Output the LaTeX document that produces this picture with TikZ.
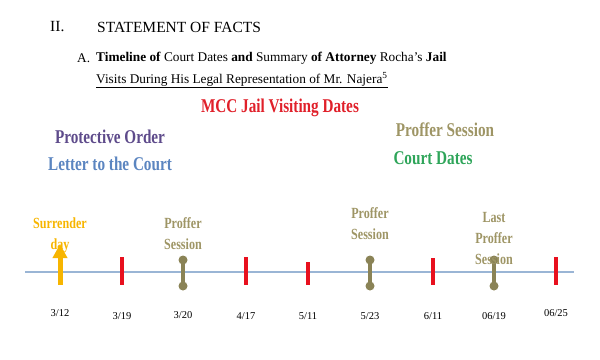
\documentclass[tikz,border=0pt]{standalone}
\usepackage{fontspec}
\setmainfont{Liberation Serif}
\newfontfamily\narrowfont[FakeStretch=0.78]{Liberation Serif}
\usetikzlibrary{arrows.meta}

\definecolor{mccred}{HTML}{E0202A}
\definecolor{orderpurple}{HTML}{5E4B8B}
\definecolor{letterblue}{HTML}{5B85C0}
\definecolor{profferkhaki}{HTML}{9E9565}
\definecolor{courtgreen}{HTML}{2FA55A}
\definecolor{surrenderyellow}{HTML}{F7B500}
\definecolor{profferolive}{HTML}{8A8356}
\definecolor{visitred}{HTML}{E8101E}
\definecolor{axisblue}{HTML}{9AB5D5}

\begin{document}
\begin{tikzpicture}[x=1pt, y=-1pt, >=Latex,
    heading/.style={font=\fontsize{13.3}{16}\selectfont, anchor=west, inner sep=0pt},
    legend/.style={font=\narrowfont\bfseries\fontsize{19.5}{22}\selectfont, inner sep=0pt},
    eventlabel/.style={font=\narrowfont\bfseries\fontsize{15.5}{21}\selectfont, align=center, inner sep=0pt, text=profferkhaki},
    datelabel/.style={font=\fontsize{10.5}{12}\selectfont, inner sep=0pt},
    visitbar/.style={visitred, line width=4.5pt},
    profferbar/.style={profferolive, line width=4pt},
    profferend/.style={circle, fill=profferolive, minimum size=9pt, inner sep=0pt}]
  \useasboundingbox (0,0) rectangle (600,359);
  % headings
  \node[heading, font=\fontsize{15.5}{18}\selectfont] (sec) at (50,27) {II.};
  \node[heading, font=\fontsize{15.5}{18}\selectfont] (sectitle) at (97,27) {STATEMENT OF FACTS};
  \node[heading] (suba) at (77,58) {A.};
  \node[heading] (subline1) at (96,58) {\textbf{Timeline of} Court Dates \textbf{and} Summary \textbf{of Attorney} Rocha's \textbf{Jail}};
  \node[heading] (subline2) at (96,80) {\underline{Visits During His Legal Representation of Mr. Najera\textsuperscript{5}}};
  % legend
  \node[legend, text=mccred] (mcc) at (280,108) {MCC Jail Visiting Dates};
  \node[legend, text=orderpurple] (order) at (110,137) {Protective Order};
  \node[legend, text=letterblue] (letter) at (110,164) {Letter to the Court};
  \node[legend, text=profferkhaki] (proffer) at (445,130) {Proffer Session};
  \node[legend, text=courtgreen] (court) at (433,158) {Court Dates};
  % timeline
  \coordinate (tlstart) at (25,272);
  \coordinate (tlend) at (574,272);
  \draw[axisblue, line width=1.2pt] (tlstart) -- (tlend);
  % surrender day
  \coordinate (arrowfoot) at (60,285);
  \coordinate (arrowtip) at (60,244);
  \draw[-{Triangle[width=14pt,length=14pt]}, surrenderyellow, line width=5pt] (arrowfoot) -- (arrowtip);
  \node[eventlabel, text=surrenderyellow] (surrender) at (60,235) {Surrender\\day};
  % jail visits
  \foreach \vx/\vtop in {122/257, 246/257, 308/262, 433/258, 556/257}
    \draw[visitbar] (\vx,\vtop) -- (\vx,285);
  % proffer sessions
  \foreach \px/\pname in {183/pa, 370/pb, 494/pc} {
    \node[profferend] (\pname top) at (\px,260) {};
    \node[profferend] (\pname bot) at (\px,286) {};
    \draw[profferbar] (\pname top.center) -- (\pname bot.center);
  }
  \node[eventlabel] (plabela) at (183,234) {Proffer\\Session};
  \node[eventlabel] (plabelb) at (370,224) {Proffer\\Session};
  \node[eventlabel] (plabelc) at (494,238) {Last\\Proffer\\Session};
  % dates
  \node[datelabel] (d1) at (60,313) {3/12};
  \node[datelabel] (d2) at (122,316) {3/19};
  \node[datelabel] (d3) at (183,315) {3/20};
  \node[datelabel] (d4) at (246,316) {4/17};
  \node[datelabel] (d5) at (308,316) {5/11};
  \node[datelabel] (d6) at (370,316) {5/23};
  \node[datelabel] (d7) at (433,316) {6/11};
  \node[datelabel] (d8) at (494,316) {06/19};
  \node[datelabel] (d9) at (556,313) {06/25};
\end{tikzpicture}
\end{document}
